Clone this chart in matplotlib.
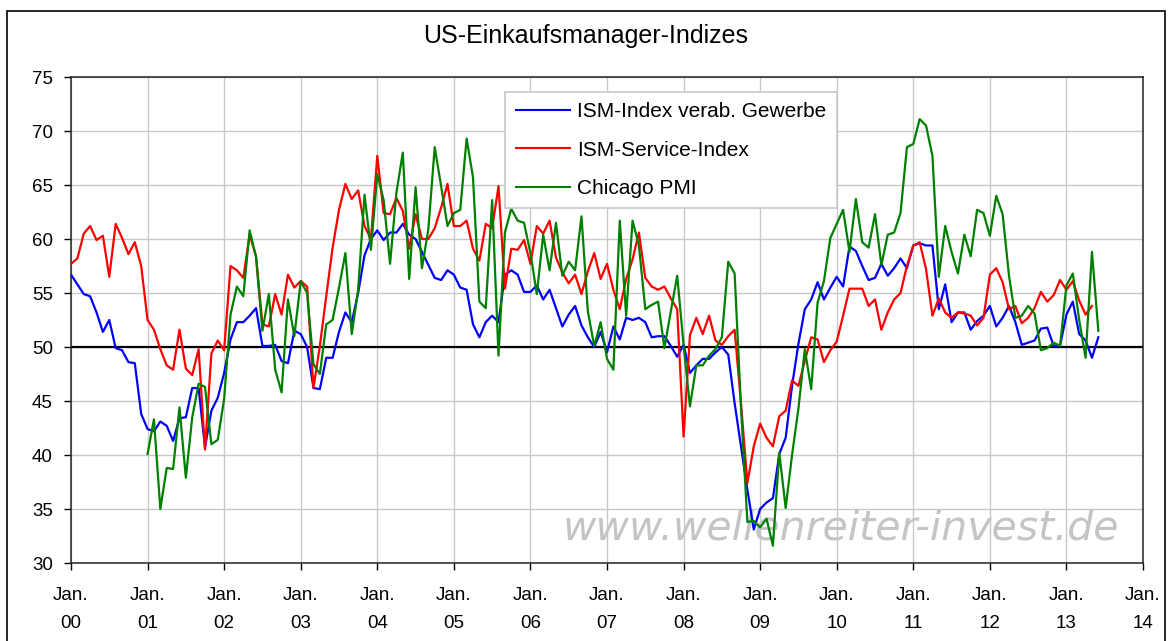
import matplotlib
matplotlib.use('Agg')
import matplotlib.pyplot as plt
from matplotlib.patches import Rectangle
import numpy as np

plt.rcParams['font.family'] = ['Liberation Sans', 'DejaVu Sans']

# monthly values, Jan 2000 = month 0
ism_mfg = [
    56.7, 55.8, 54.9, 54.7, 53.2, 51.4, 52.5, 49.9, 49.7, 48.6, 48.5, 43.8,
    42.4, 42.2, 43.1, 42.7, 41.3, 43.4, 43.5, 46.2, 46.2, 40.7, 44.1, 45.3,
    47.6, 50.7, 52.3, 52.3, 52.9, 53.6, 50.1, 50.1, 50.2, 48.7, 48.5, 51.5,
    51.2, 50.0, 46.2, 46.1, 49.0, 49.0, 51.4, 53.2, 52.3, 55.0, 58.5, 60.0,
    60.8, 59.9, 60.6, 60.6, 61.4, 60.4, 60.0, 58.8, 57.6, 56.4, 56.2, 57.1,
    56.7, 55.5, 55.3, 52.1, 50.9, 52.3, 52.9, 52.3, 56.7, 57.1, 56.7, 55.1,
    55.1, 55.7, 54.4, 55.3, 53.6, 51.9, 53.0, 53.8, 52.0, 50.9, 50.0, 51.4,
    49.5, 51.9, 50.7, 52.7, 52.5, 52.7, 52.3, 50.9, 51.0, 51.0, 50.1, 49.1,
    50.2, 47.6, 48.3, 48.9, 48.9, 49.5, 50.0, 49.3, 44.8, 40.8, 36.8, 33.1,
    35.0, 35.6, 36.0, 40.1, 41.6, 46.4, 50.3, 53.5, 54.4, 56.0, 54.4, 55.5,
    56.5, 55.6, 59.3, 58.9, 57.5, 56.2, 56.4, 57.7, 56.6, 57.3, 58.2, 57.3,
    59.4, 59.6, 59.4, 59.4, 53.5, 55.8, 52.3, 53.2, 53.2, 51.6, 52.4, 52.9,
    53.8, 51.9, 52.7, 53.8, 52.3, 50.2, 50.4, 50.6, 51.7, 51.8, 50.1, 50.1,
    53.0, 54.2, 51.2, 50.6, 49.0, 50.9,
]

ism_services = [
    57.7, 58.2, 60.5, 61.2, 59.9, 60.3, 56.5, 61.4, 60.1, 58.6, 59.7, 57.5,
    52.5, 51.6, 49.8, 48.3, 47.9, 51.6, 48.0, 47.4, 49.8, 40.5, 49.4, 50.6,
    49.7, 57.5, 57.1, 56.4, 60.4, 58.4, 52.1, 51.9, 54.9, 53.0, 56.7, 55.5,
    56.1, 55.6, 46.2, 50.1, 54.7, 59.2, 62.7, 65.1, 63.7, 64.5, 61.2, 60.0,
    67.7, 62.4, 62.3, 63.8, 62.6, 59.1, 62.3, 60.0, 60.0, 61.0, 62.9, 65.1,
    61.2, 61.2, 61.7, 59.1, 58.0, 61.4, 61.0, 64.9, 55.4, 59.1, 59.0, 59.9,
    57.7, 61.2, 60.5, 61.7, 58.3, 56.9, 55.9, 56.7, 54.9, 57.0, 58.7, 56.3,
    57.7, 55.3, 53.5, 56.3, 58.1, 60.6, 56.4, 55.6, 55.3, 55.6, 54.5, 53.5,
    41.7, 51.1, 52.7, 51.2, 52.9, 50.6, 50.2, 51.0, 51.6, 44.8, 37.4, 40.8,
    42.9, 41.6, 40.8, 43.6, 44.1, 46.9, 46.4, 48.7, 50.9, 50.7, 48.6, 49.7,
    50.5, 52.9, 55.4, 55.4, 55.4, 53.8, 54.4, 51.6, 53.2, 54.4, 55.0, 57.5,
    59.4, 59.7, 57.2, 52.9, 54.5, 53.2, 52.7, 53.2, 53.1, 52.9, 52.0, 52.7,
    56.7, 57.3, 56.0, 53.5, 53.8, 52.2, 52.7, 53.6, 55.1, 54.2, 54.8, 56.2,
    55.3, 56.1, 54.3, 53.0, 53.8,
]

# Chicago PMI starts Jan 2001 (month 12)
chicago_start = 12
chicago_pmi = [
    40.1, 43.3, 35.0, 38.8, 38.7, 44.4, 37.9, 43.5, 46.6, 46.3, 41.0, 41.4,
    45.2, 53.0, 55.6, 54.7, 60.8, 58.3, 51.5, 54.9, 47.9, 45.8, 54.4, 51.0,
    56.1, 55.0, 48.4, 47.5, 52.1, 52.5, 55.5, 58.7, 51.2, 55.3, 64.1, 59.0,
    66.0, 63.6, 57.7, 64.3, 68.0, 56.3, 64.8, 57.3, 60.9, 68.5, 64.9, 61.2,
    62.4, 62.7, 69.3, 65.7, 54.2, 53.6, 63.6, 49.2, 60.6, 62.8, 61.7, 61.5,
    58.7, 54.9, 60.4, 57.1, 61.5, 56.6, 57.9, 57.1, 62.1, 53.3, 50.1, 52.3,
    48.9, 47.9, 61.7, 52.9, 61.7, 59.4, 53.5, 53.9, 54.2, 49.9, 53.3, 56.6,
    50.2, 44.5, 48.3, 48.3, 49.2, 49.8, 50.9, 57.9, 56.8, 44.4, 33.8, 33.9,
    33.3, 34.1, 31.6, 40.2, 35.1, 40.0, 44.3, 49.8, 46.1, 54.1, 56.1, 60.1,
    61.4, 62.7, 58.8, 63.7, 59.7, 59.2, 62.3, 57.6, 60.4, 60.6, 62.4, 68.5,
    68.8, 71.1, 70.5, 67.7, 56.5, 61.2, 58.8, 56.8, 60.4, 58.4, 62.7, 62.4,
    60.3, 64.0, 62.3, 56.6, 52.7, 52.9, 53.8, 53.1, 49.7, 49.9, 50.4, 50.1,
    55.7, 56.8, 52.5, 49.0, 58.8, 51.5,
]

series_labels = ['ISM-Index verab. Gewerbe', 'ISM-Service-Index', 'Chicago PMI']
years = ['00', '01', '02', '03', '04', '05', '06', '07', '08', '09', '10',
         '11', '12', '13', '14']

fig = plt.figure(figsize=(11.68, 6.41), dpi=100)
ax = fig.add_axes([71 / 1168, 1 - 563 / 641, 1072 / 1168, 486 / 641])

x_mfg = np.arange(len(ism_mfg))
x_srv = np.arange(len(ism_services))
x_chi = np.arange(len(chicago_pmi)) + chicago_start

ax.plot(x_mfg, ism_mfg, color='#0000ff', lw=1.6, label=series_labels[0], zorder=3)
ax.plot(x_srv, ism_services, color='#ff0000', lw=1.6, label=series_labels[1], zorder=3)
ax.plot(x_chi, chicago_pmi, color='#008000', lw=1.6, label=series_labels[2], zorder=3)

ax.axhline(50, color='black', lw=1.6, zorder=2)

ax.set_xlim(0, 12 * (len(years) - 1))
ax.set_ylim(30, 75)
ax.set_yticks(np.arange(30, 76, 5))
ax.set_xticks(np.arange(len(years)) * 12)
ax.set_xticklabels(['Jan.\n' + y for y in years], linespacing=1.85)
ax.grid(True, color='#c8c8c8', lw=1, zorder=0)
ax.set_axisbelow(True)
ax.tick_params(axis='both', direction='out', length=5, width=1, colors='black',
               labelsize=13.5)
ax.tick_params(axis='x', pad=12)
ax.tick_params(axis='y', pad=8)
for s in ax.spines.values():
    s.set_color('#222222')
    s.set_linewidth(1.1)

# title is centred on the whole chart frame, not on the plot area
fig.text(586 / 1168, 1 - 36 / 641, 'US-Einkaufsmanager-Indizes', fontsize=18,
         ha='center', va='center')

ax.text(0.718, 0.072, 'www.wellenreiter-invest.de', transform=ax.transAxes,
        ha='center', va='center', fontsize=29.5, style='italic',
        family='DejaVu Sans', color='#c4c4c4', zorder=1)

leg = ax.legend(loc='upper left', bbox_to_anchor=(0.405, 0.969),
                borderaxespad=0, fontsize=15, handlelength=2.6,
                handletextpad=0.35, labelspacing=0.92, borderpad=0.5,
                fancybox=False, framealpha=1, edgecolor='#c8c8c8')
leg.get_frame().set_linewidth(1.2)
for line in leg.get_lines():
    line.set_linewidth(1.5)

fig.patches.append(Rectangle((7 / 1168, -0.01), 1158 / 1168, 1.01 - 11 / 641,
                             transform=fig.transFigure, fill=False,
                             edgecolor='black', lw=1.2))

fig.savefig('out.png', dpi=100)
